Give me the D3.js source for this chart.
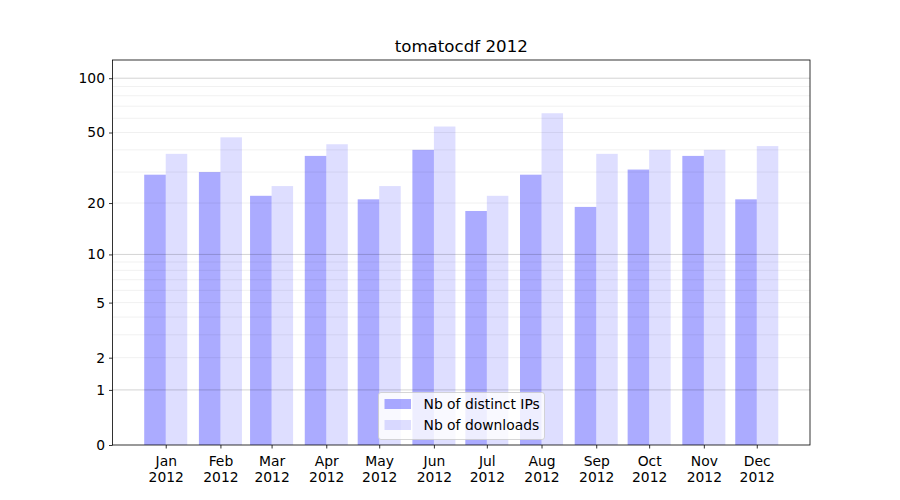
<!DOCTYPE html>
<html>
<head>
<meta charset="utf-8">
<script src="https://cdn.jsdelivr.net/npm/d3@7"></script>
<style>
  body { margin: 0; background: #fff; }
  text { font-family: "DejaVu Sans", sans-serif; }
</style>
</head>
<body>
<div id="chart"></div>
<script>
// data
const months = ['Jan', 'Feb', 'Mar', 'Apr', 'May', 'Jun', 'Jul', 'Aug', 'Sep', 'Oct', 'Nov', 'Dec'];
const distinctIPs = [29, 30, 22, 37, 21, 40, 18, 29, 19, 31, 37, 21];
const downloads = [38, 47, 25, 43, 25, 54, 22, 64, 38, 40, 40, 42];
const yTicks = [0, 1, 2, 5, 10, 20, 50, 100];
const yMajorGrid = [1, 10, 100];
const yMinorGrid = [2, 3, 4, 5, 6, 7, 8, 9, 20, 30, 40, 50, 60, 70, 80, 90];

const width = 900;
const height = 500;
const margin = { top: 60, right: 90, bottom: 55, left: 112.5 };
const DAY = 864e5;
const barDays = 12.2;
const fs = 13.89;

const dates = months.map((m, i) => new Date(Date.UTC(2012, i, 1)));
const pad = barDays * DAY + 0.05 * (dates[11] - dates[0] + 2 * barDays * DAY);

const x = d3.scaleUtc()
  .domain([new Date(+dates[0] - pad), new Date(+dates[11] + pad)])
  .range([margin.left, width - margin.right]);

const y = d3.scaleSymlog()
  .constant(1)
  .domain([0, 126])
  .range([height - margin.bottom, margin.top]);

const svg = d3.select('#chart').append('svg')
  .attr('width', width)
  .attr('height', height);

// title
svg.append('text')
  .attr('x', (margin.left + width - margin.right) / 2)
  .attr('y', 52)
  .attr('text-anchor', 'middle')
  .attr('font-size', 16.67)
  .text('tomatocdf 2012');

const bw = x(new Date(+dates[0] + barDays * DAY)) - x(dates[0]);

// bars
svg.append('g').selectAll('rect')
  .data(distinctIPs)
  .join('rect')
    .attr('x', (d, i) => x(dates[i]) - bw)
    .attr('y', d => y(d))
    .attr('width', bw)
    .attr('height', d => y(0) - y(d))
    .attr('fill', '#0000ff')
    .attr('fill-opacity', 0.33);

svg.append('g').selectAll('rect')
  .data(downloads)
  .join('rect')
    .attr('x', (d, i) => x(dates[i]))
    .attr('y', d => y(d))
    .attr('width', bw)
    .attr('height', d => y(0) - y(d))
    .attr('fill', '#0000ff')
    .attr('fill-opacity', 0.13);

// grid (drawn over the bars, as in the original)
svg.append('g').selectAll('line')
  .data(yMinorGrid)
  .join('line')
    .attr('x1', margin.left).attr('x2', width - margin.right)
    .attr('y1', d => y(d)).attr('y2', d => y(d))
    .attr('stroke', '#000').attr('stroke-opacity', 0.075).attr('stroke-width', 0.8);

svg.append('g').selectAll('line')
  .data(yMajorGrid)
  .join('line')
    .attr('x1', margin.left).attr('x2', width - margin.right)
    .attr('y1', d => y(d)).attr('y2', d => y(d))
    .attr('stroke', '#000').attr('stroke-opacity', 0.22).attr('stroke-width', 0.8);

// axes
const yAxis = svg.append('g')
  .attr('transform', `translate(${margin.left},0)`)
  .call(d3.axisLeft(y).tickValues(yTicks).tickFormat(d3.format('d')).tickSize(3.5).tickPadding(4));

const xAxis = svg.append('g')
  .attr('transform', `translate(0,${height - margin.bottom})`)
  .call(d3.axisBottom(x).tickValues(dates).tickSize(3.5).tickPadding(4).tickFormat(() => ''));

xAxis.selectAll('.tick').append('text')
  .attr('fill', '#000')
  .attr('text-anchor', 'middle')
  .attr('font-size', fs)
  .selectAll('tspan')
  .data((d, i) => [months[i], '2012'])
  .join('tspan')
    .attr('x', 0)
    .attr('y', (d, j) => 21 + j * 16)
    .text(d => d);

[yAxis, xAxis].forEach(a => {
  a.select('.domain').remove();
  a.selectAll('.tick line').attr('stroke', '#000').attr('stroke-width', 0.8);
  a.selectAll('.tick text').attr('font-size', fs).attr('font-family', 'DejaVu Sans, sans-serif');
});

// frame
svg.append('rect')
  .attr('x', margin.left).attr('y', margin.top)
  .attr('width', width - margin.right - margin.left)
  .attr('height', height - margin.bottom - margin.top)
  .attr('fill', 'none').attr('stroke', '#000').attr('stroke-width', 0.8);

// legend
const legend = svg.append('g').attr('transform', 'translate(378.5,392.5)');
legend.append('rect')
  .attr('width', 166).attr('height', 47).attr('rx', 2.5)
  .attr('fill', '#fff').attr('fill-opacity', 0.8)
  .attr('stroke', '#cccccc').attr('stroke-width', 0.8);

const legendItems = [
  { label: 'Nb of distinct IPs', opacity: 0.33 },
  { label: 'Nb of downloads', opacity: 0.13 }
];
legendItems.forEach((item, i) => {
  legend.append('rect')
    .attr('x', 6).attr('y', 6.5 + i * 21)
    .attr('width', 26.5).attr('height', 10)
    .attr('fill', '#0000ff').attr('fill-opacity', item.opacity);
  legend.append('text')
    .attr('x', 45).attr('y', 16.5 + i * 21)
    .attr('font-size', fs)
    .text(item.label);
});
</script>
</body>
</html>
